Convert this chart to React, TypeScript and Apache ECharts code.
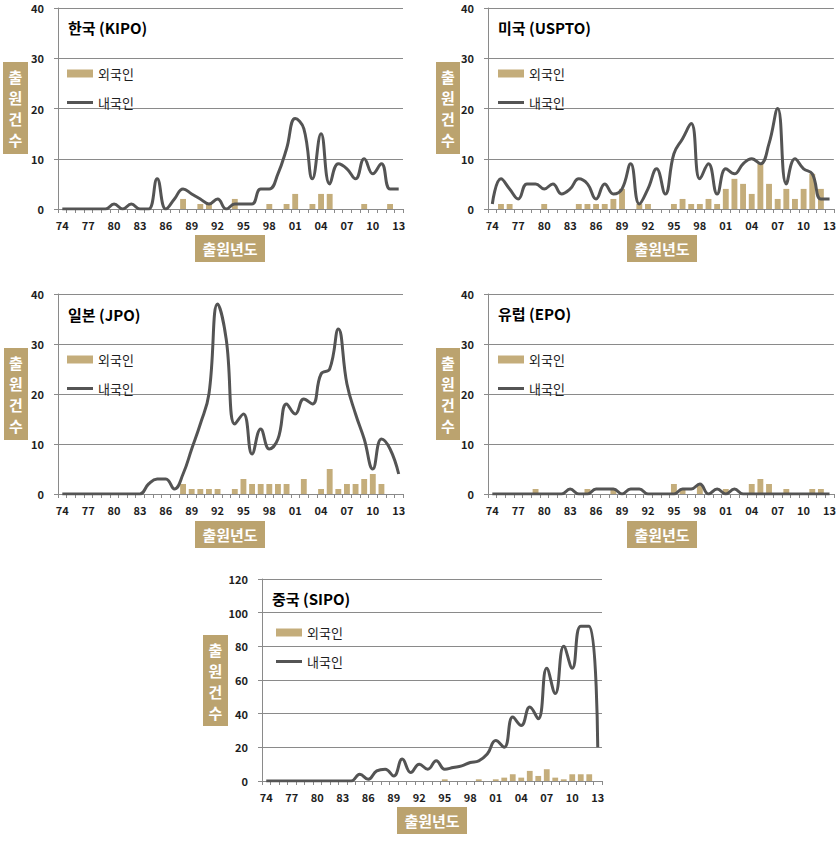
import React, { useEffect, useRef } from 'react';
import * as echarts from 'echarts';

// Category labels (출원년도, 1974–2013)
const years = ['74','75','76','77','78','79','80','81','82','83','84','85','86','87','88','89','90','91','92','93','94','95','96','97','98','99','00','01','02','03','04','05','06','07','08','09','10','11','12','13'];

// 한국 (KIPO)
const krForeign = [0,0,0,0,0,0,0,0,0,0,0,0,0,0,2,0,1,1,0,0,2,0,0,0,1,0,1,3,0,1,3,3,0,0,0,1,0,0,1,0];
const krDomestic = [0,0,0,0,0,0,1,0,1,0,0,6,0,2,4,3,2,1,2,0,1,1,1,4,4,7,12,18,16,6,15,5,9,8,6,10,7,9,4,4];

// 미국 (USPTO)
const usForeign = [0,1,1,0,0,0,1,0,0,0,1,1,1,1,2,4,0,1,1,0,0,1,2,1,1,2,1,4,6,5,3,9,5,2,4,2,4,7,4,0];
const usDomestic = [1,6,4,2,5,5,4,5,3,4,6,5,2,5,3,4,9,1,4,8,3,11,14,17,6,9,3,8,7,9,10,9,13,20,5,10,8,7,2,2];

// 일본 (JPO)
const jpForeign = [0,0,0,0,0,0,0,0,0,0,0,0,0,0,2,1,1,1,1,0,1,3,2,2,2,2,2,0,3,0,1,5,1,2,2,3,4,2,0,0];
const jpDomestic = [0,0,0,0,0,0,0,0,0,0,2,3,3,1,4,9,14,20,38,31,14,16,8,13,9,11,18,16,19,18,24,25,33,22,16,11,5,11,9,4];

// 유럽 (EPO)
const euForeign = [0,0,0,0,0,1,0,0,0,0,0,1,0,0,1,0,0,0,0,0,0,2,1,0,2,0,0,1,0,0,2,3,2,0,1,0,0,1,1,0];
const euDomestic = [0,0,0,0,0,0,0,0,0,1,0,0,1,1,1,0,1,1,0,0,0,0,1,1,2,0,1,0,1,0,0,0,0,0,0,0,0,0,0,0];

// 중국 (SIPO)
const cnForeign = [0,0,0,0,0,0,0,0,0,0,0,0,0,0,0,0,0,0,0,0,0,1,0,0,0,1,0,1,2,4,2,6,3,7,2,1,4,4,4,0];
const cnDomestic = [0,0,0,0,0,0,0,0,0,0,0,4,1,6,7,3,13,5,10,7,12,7,8,9,11,12,16,24,20,38,33,44,37,67,52,80,67,92,92,20];

const seriesNames = ['외국인', '내국인'];
const yTitle = '출\n원\n건\n수';
const xTitle = '출원년도';

const FONT = "'Noto Sans CJK KR', 'Noto Sans', sans-serif";
const TAN = '#C4AD7B';
const BOX = '#BBA36F';
const LINE = '#545454';
const GRIDC = '#8A8A8A';
const TXT = '#1e1e1e';

const panels = [
  { title: '한국 (KIPO)', foreign: krForeign, domestic: krDomestic, max: 40, interval: 10,
    grid: { left: 58, top: 8, width: 345, height: 201 }, titlePos: [68, 27], legendPos: [67, 67],
    yBox: [3, 62, 25, 92], xBox: [195, 235, 70, 27] },
  { title: '미국 (USPTO)', foreign: usForeign, domestic: usDomestic, max: 40, interval: 10,
    grid: { left: 488, top: 8, width: 349, height: 201 }, titlePos: [498, 27], legendPos: [498, 67],
    yBox: [436, 62, 24, 92], xBox: [627, 235, 70, 27] },
  { title: '일본 (JPO)', foreign: jpForeign, domestic: jpDomestic, max: 40, interval: 10,
    grid: { left: 58, top: 294, width: 345, height: 200 }, titlePos: [68, 314], legendPos: [67, 353],
    yBox: [4, 348, 24, 92], xBox: [195, 521, 70, 27] },
  { title: '유럽 (EPO)', foreign: euForeign, domestic: euDomestic, max: 40, interval: 10,
    grid: { left: 488, top: 294, width: 349, height: 200 }, titlePos: [498, 313], legendPos: [498, 353],
    yBox: [436, 348, 24, 92], xBox: [627, 521, 70, 27] },
  { title: '중국 (SIPO)', foreign: cnForeign, domestic: cnDomestic, max: 120, interval: 20,
    grid: { left: 262, top: 579, width: 340, height: 202 }, titlePos: [272, 598], legendPos: [276, 626],
    yBox: [203, 635, 25, 91], xBox: [397, 807, 70, 27] },
];

function buildOption() {
  const grid = panels.map((p) => ({ ...p.grid, containLabel: false }));
  const xAxis = panels.map((p, i) => ({
    type: 'category',
    gridIndex: i,
    data: years,
    boundaryGap: true,
    axisLine: { show: true, lineStyle: { color: GRIDC, width: 1 } },
    axisTick: { show: true, interval: 0, length: 4, lineStyle: { color: GRIDC } },
    axisLabel: { interval: 2, margin: 10, fontFamily: FONT, fontWeight: 'bold', fontSize: 11, color: TXT },
  }));
  const yAxis = panels.map((p, i) => ({
    type: 'value',
    gridIndex: i,
    min: 0,
    max: p.max,
    interval: p.interval,
    axisLine: { show: true, lineStyle: { color: GRIDC, width: 1 } },
    axisTick: { show: true, length: 4, lineStyle: { color: GRIDC } },
    splitLine: { show: true, lineStyle: { color: GRIDC, width: 1 } },
    axisLabel: { margin: 14, fontFamily: FONT, fontWeight: 'bold', fontSize: 11, color: TXT },
  }));
  const series: any[] = [];
  panels.forEach((p, i) => {
    series.push({
      type: 'bar', name: seriesNames[0], xAxisIndex: i, yAxisIndex: i,
      data: p.foreign, barWidth: '68%', itemStyle: { color: TAN },
    });
    series.push({
      type: 'line', name: seriesNames[1], xAxisIndex: i, yAxisIndex: i,
      data: p.domestic, smooth: 0.45, symbol: 'none', showSymbol: false,
      lineStyle: { color: LINE, width: 3 }, itemStyle: { color: LINE },
    });
  });
  const legend = panels.map((p) => ({
    data: [
      { name: seriesNames[0], icon: 'rect' },
      { name: seriesNames[1], icon: 'path://M0,0L26,0L26,3L0,3Z' },
    ],
    orient: 'vertical',
    left: p.legendPos[0],
    top: p.legendPos[1],
    itemWidth: 26,
    itemHeight: 8,
    itemGap: 16,
    padding: 0,
    symbolKeepAspect: true,
    selectedMode: false,
    textStyle: { fontFamily: FONT, fontSize: 13, color: TXT },
  }));
  const graphic: any[] = [];
  panels.forEach((p) => {
    graphic.push({
      type: 'text', x: p.titlePos[0], y: p.titlePos[1],
      style: { text: p.title, fill: '#000', font: `bold 15px ${FONT}`, verticalAlign: 'middle', align: 'left' },
    });
    const [bx, by, bw, bh] = p.yBox;
    graphic.push({ type: 'rect', shape: { x: bx, y: by, width: bw, height: bh }, style: { fill: BOX } });
    graphic.push({
      type: 'text', x: bx + bw / 2, y: by + bh / 2,
      style: { text: yTitle, fill: '#fff', font: `bold 15px ${FONT}`, lineHeight: 21, align: 'center', verticalAlign: 'middle' },
    });
    const [cx, cy, cw, ch] = p.xBox;
    graphic.push({ type: 'rect', shape: { x: cx, y: cy, width: cw, height: ch }, style: { fill: BOX } });
    graphic.push({
      type: 'text', x: cx + cw / 2, y: cy + ch / 2,
      style: { text: xTitle, fill: '#fff', font: `bold 15px ${FONT}`, align: 'center', verticalAlign: 'middle' },
    });
  });
  return {
    animation: false,
    backgroundColor: '#ffffff',
    textStyle: { fontFamily: FONT },
    grid, xAxis, yAxis, series, legend, graphic,
  };
}

export default function App() {
  const ref = useRef<HTMLDivElement>(null);
  useEffect(() => {
    if (!ref.current) return;
    const chart = echarts.init(ref.current, undefined, { renderer: 'svg' });
    chart.setOption(buildOption() as any);
    return () => chart.dispose();
  }, []);
  return (
    <div
      ref={ref}
      style={{ position: 'absolute', left: 0, top: 0, width: 839, height: 841, background: '#fff' }}
    />
  );
}
